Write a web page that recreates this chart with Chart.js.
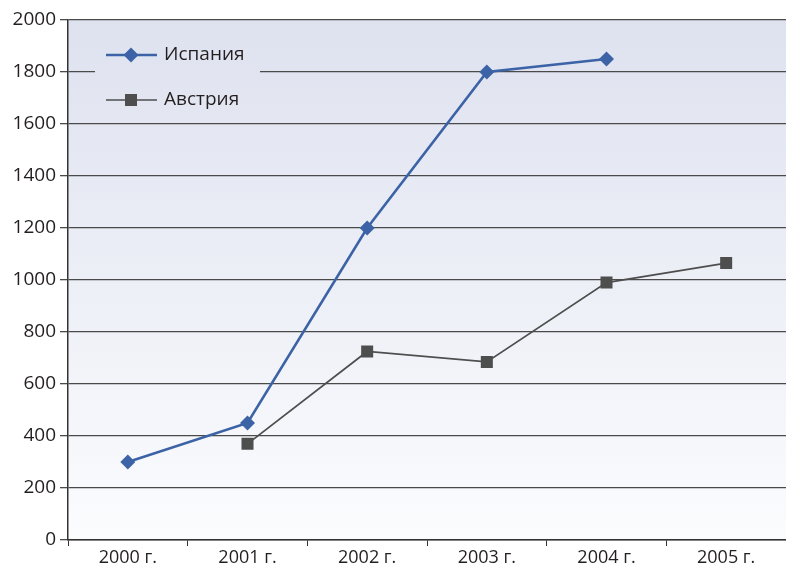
<!DOCTYPE html>
<html>
<head>
<meta charset="utf-8">
<script src="https://cdn.jsdelivr.net/npm/chart.js@4/dist/chart.umd.min.js"></script>
<style>
html,body{margin:0;padding:0;background:#fff;overflow:hidden;}
#wrap{width:786px;height:566px;}
</style>
</head>
<body>
<div id="wrap"><canvas id="c" width="786" height="566"></canvas></div>
<script>
const categories = ['2000 г.', '2001 г.', '2002 г.', '2003 г.', '2004 г.', '2005 г.'];
const spain = [300, 450, 1200, 1800, 1850, null];
const austria = [null, 370, 725, 685, 990, 1065];
const yTicks = [0, 200, 400, 600, 800, 1000, 1200, 1400, 1600, 1800, 2000];
const FONT = '"Open Sans", sans-serif';

function bgGradient(ctx, area) {
  const g = ctx.createLinearGradient(0, area.top, 0, area.bottom);
  g.addColorStop(0, 'rgb(222,226,239)');
  g.addColorStop(1, 'rgb(251,252,254)');
  return g;
}

const bgPlugin = {
  id: 'bg',
  beforeDraw(chart) {
    const {ctx, chartArea: a} = chart;
    ctx.save();
    ctx.fillStyle = bgGradient(ctx, a);
    ctx.fillRect(a.left, a.top, a.right - a.left, a.bottom - a.top);
    ctx.restore();
  },
  beforeDatasetsDraw(chart) {
    const {ctx, chartArea: a} = chart;
    ctx.save();
    ctx.fillStyle = bgGradient(ctx, a);
    ctx.fillRect(95, 36, 165, 82);
    const items = chart.data.datasets;
    const rows = [55, 100];
    items.forEach((ds, i) => {
      const y = rows[i];
      ctx.strokeStyle = ds.borderColor;
      ctx.lineWidth = ds.borderWidth;
      ctx.beginPath();
      ctx.moveTo(106, y); ctx.lineTo(157, y);
      ctx.stroke();
      ctx.fillStyle = ds.pointBackgroundColor;
      if (ds.pointStyle === 'rectRot') {
        const r = 7.5;
        ctx.beginPath();
        ctx.moveTo(131, y - r); ctx.lineTo(131 + r, y); ctx.lineTo(131, y + r); ctx.lineTo(131 - r, y);
        ctx.closePath(); ctx.fill();
      } else {
        ctx.fillRect(131 - 6, y - 6, 12, 12);
      }
      ctx.fillStyle = '#231f20';
      ctx.font = '19px ' + FONT;
      ctx.textBaseline = 'middle';
      ctx.textAlign = 'left';
      ctx.fillText(ds.label, 164, y);
    });
    ctx.restore();
  }
};

new Chart(document.getElementById('c'), {
  type: 'line',
  data: {
    labels: categories,
    datasets: [
      {
        label: 'Испания',
        data: spain,
        borderColor: '#3c63a6',
        backgroundColor: '#3c63a6',
        pointBackgroundColor: '#3c63a6',
        pointBorderColor: '#3c63a6',
        borderWidth: 2.6,
        pointStyle: 'rectRot',
        pointRadius: 7.5,
        pointBorderWidth: 0,
        tension: 0,
        spanGaps: false
      },
      {
        label: 'Австрия',
        data: austria,
        borderColor: '#4e4e4e',
        backgroundColor: '#4e4e4e',
        pointBackgroundColor: '#4e4e4e',
        pointBorderColor: '#4e4e4e',
        borderWidth: 1.7,
        pointStyle: 'rect',
        pointRadius: 8.5,
        pointBorderWidth: 0,
        tension: 0,
        spanGaps: false
      }
    ]
  },
  options: {
    responsive: false,
    animation: false,
    devicePixelRatio: 1,
    layout: {autoPadding: false, padding: {top: 20, right: -3, left: 0, bottom: 0}},
    plugins: {legend: {display: false}, tooltip: {enabled: false}},
    scales: {
      x: {
        offset: true,
        grid: {offset: true, drawOnChartArea: false, drawTicks: true, tickLength: 6, color: '#333', lineWidth: 1},
        border: {display: true, color: '#333', width: 1.5},
        ticks: {color: '#231f20', font: {family: FONT, size: 18}, padding: 1, maxRotation: 0},
        afterFit(s) { s.height = 26; s.paddingLeft = 0; s.paddingRight = 0; }
      },
      y: {
        min: 0, max: 2000,
        afterBuildTicks(s) { s.ticks = yTicks.map(v => ({value: v})); },
        grid: {color: '#4a4a4a', lineWidth: 1.3, tickLength: 8, drawTicks: true},
        border: {display: true, color: '#333', width: 1.5},
        ticks: {color: '#231f20', font: {family: FONT, size: 19}, padding: 4, callback: v => String(v)},
        afterFit(s) { s.width = 68; }
      }
    }
  },
  plugins: [bgPlugin]
});
</script>
</body>
</html>
